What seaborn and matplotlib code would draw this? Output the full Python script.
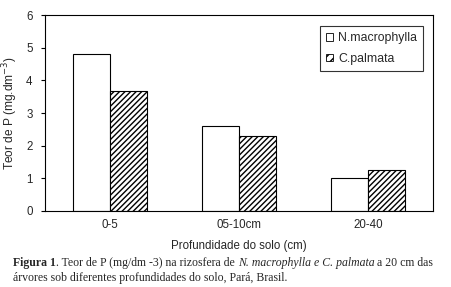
import pandas as pd
import matplotlib.pyplot as plt
import seaborn as sns

# values
depths = ['0-5', '05-10cm', '20-40']
n_macrophylla = [4.8, 2.6, 1.0]
c_palmata = [3.67, 2.31, 1.24]
species = ['N.macrophylla', 'C.palmata']

df = pd.DataFrame({
    'depth': depths * 2,
    'teor': n_macrophylla + c_palmata,
    'species': [species[0]] * 3 + [species[1]] * 3,
})

sns.set_style('white')
plt.rcParams['font.family'] = ['Liberation Sans', 'DejaVu Sans']
plt.rcParams['hatch.linewidth'] = 1.0

fig = plt.figure(figsize=(4.51, 2.87), dpi=100)
ax = fig.add_axes([0.0998, 0.265, 0.8603, 0.6825])

sns.barplot(data=df, x='depth', y='teor', hue='species', order=depths,
            hue_order=species, width=0.572, palette=['white', 'white'],
            edgecolor='black', linewidth=0.8, ax=ax)

# hatch the second series
for bar in ax.containers[1]:
    bar.set_hatch('//////')

ax.set_xlim(-0.5, 2.5)
ax.set_ylim(0, 6)
ax.set_yticks(range(7))
for s in ax.spines.values():
    s.set_color('black')
    s.set_linewidth(0.8)

ax.tick_params(axis='x', which='major', length=0, labelsize=8.3, pad=6)
ax.set_xticks([-0.5, 0.5, 1.5, 2.5], minor=True)
ax.tick_params(axis='x', which='minor', length=3, width=0.8, color='black', direction='out')
ax.tick_params(axis='y', length=3, width=0.8, color='black', direction='out',
               labelsize=8.3, left=True, pad=6)

ax.set_xlabel('Profundidade do solo (cm)', fontsize=8.3, labelpad=6)
ax.set_ylabel('Teor de P (mg.dm$^{-3}$)', fontsize=8.6, labelpad=4)

leg = ax.legend(loc='upper right', bbox_to_anchor=(0.99, 0.975), fontsize=8.8,
                frameon=True, fancybox=False, handlelength=0.55, handleheight=0.55,
                handletextpad=0.4, labelspacing=0.7, borderpad=0.5)
leg.get_frame().set_edgecolor('black')
leg.get_frame().set_linewidth(0.8)
for h in leg.legend_handles:
    h.set_linewidth(0.6)
leg.legend_handles[1].set_hatch('////')

# caption with mixed styles, placed piece by piece
renderer = fig.canvas.get_renderer()
serif = ['Liberation Serif', 'DejaVu Serif']
pieces = [
    ('Figura 1', 'bold', 'normal'),
    ('. Teor de P (mg/dm -3) na rizosfera de ', 'normal', 'normal'),
    ('N. macrophylla e C. palmata', 'normal', 'italic'),
    (' a 20 cm das', 'normal', 'normal'),
]
x = 13 / 451
y = 1 - 266 / 287
for txt, w, st in pieces:
    t = fig.text(x, y, txt, fontsize=8.5, family=serif, fontweight=w, fontstyle=st,
                 va='baseline', ha='left')
    bb = t.get_window_extent(renderer)
    x += bb.width / fig.bbox.width
fig.text(13 / 451, 1 - 281 / 287,
         'árvores sob diferentes profundidades do solo, Pará, Brasil.',
         fontsize=8.5, family=serif, va='baseline', ha='left')

fig.savefig('out.png', dpi=100)
